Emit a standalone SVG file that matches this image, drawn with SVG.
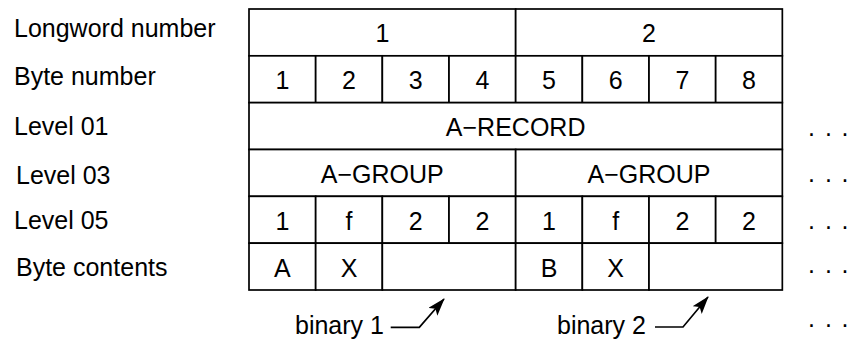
<svg xmlns="http://www.w3.org/2000/svg" width="848" height="339" viewBox="0 0 848 339">
<style>
text{font-family:"Liberation Sans",Arial,Helvetica,sans-serif;font-size:25px;fill:#000}
.c{text-anchor:middle}
.cell{fill:#fff;stroke:#000;stroke-width:1.7}
.conn{fill:none;stroke:#000;stroke-width:1.7}
</style>
<defs>
<marker id="ah" viewBox="0 0 10 10" refX="9" refY="5" markerWidth="7" markerHeight="7" markerUnits="userSpaceOnUse" orient="auto">
<path d="M0,0 L10,5 L0,10 Z" fill="#000"/>
</marker>
<marker id="ah2" viewBox="0 0 18 12" refX="17" refY="6" markerWidth="18" markerHeight="12" markerUnits="userSpaceOnUse" orient="auto">
<path d="M0,0 L18,6 L0,12 L4,6 Z" fill="#000"/>
</marker>
</defs>
<g id="labels">
<text x="14" y="37">Longword number</text>
<text x="14" y="85">Byte number</text>
<text x="14" y="135">Level 01</text>
<text x="16" y="184">Level 03</text>
<text x="14" y="228.5">Level 05</text>
<text x="16" y="276">Byte contents</text>
</g>
<g id="row-longword">
<g id="lw1"><rect class="cell" x="249" y="9" width="266.67" height="46.83"/><text class="c" x="382.33" y="42.4">1</text></g>
<g id="lw2"><rect class="cell" x="515.67" y="9" width="266.67" height="46.83"/><text class="c" x="649" y="42.4">2</text></g>
</g>
<g id="row-byte">
<g id="b1"><rect class="cell" x="249" y="55.83" width="66.67" height="46.83"/><text class="c" x="282.33" y="89.3">1</text></g>
<g id="b2"><rect class="cell" x="315.67" y="55.83" width="66.67" height="46.83"/><text class="c" x="349" y="89.3">2</text></g>
<g id="b3"><rect class="cell" x="382.33" y="55.83" width="66.67" height="46.83"/><text class="c" x="415.67" y="89.3">3</text></g>
<g id="b4"><rect class="cell" x="449" y="55.83" width="66.67" height="46.83"/><text class="c" x="482.33" y="89.3">4</text></g>
<g id="b5"><rect class="cell" x="515.67" y="55.83" width="66.67" height="46.83"/><text class="c" x="549" y="89.3">5</text></g>
<g id="b6"><rect class="cell" x="582.33" y="55.83" width="66.67" height="46.83"/><text class="c" x="615.67" y="89.3">6</text></g>
<g id="b7"><rect class="cell" x="649" y="55.83" width="66.67" height="46.83"/><text class="c" x="682.33" y="89.3">7</text></g>
<g id="b8"><rect class="cell" x="715.67" y="55.83" width="66.67" height="46.83"/><text class="c" x="749" y="89.3">8</text></g>
</g>
<g id="a-record"><rect class="cell" x="249" y="102.67" width="533.33" height="46.83"/><text class="c" x="515.67" y="136.1">A−RECORD</text></g>
<g id="row-group">
<g id="a-group-1"><rect class="cell" x="249" y="149.5" width="266.67" height="46.83"/><text class="c" x="382.33" y="182.9">A−GROUP</text></g>
<g id="a-group-2"><rect class="cell" x="515.67" y="149.5" width="266.67" height="46.83"/><text class="c" x="649" y="182.9">A−GROUP</text></g>
</g>
<g id="row-level05">
<g id="l1"><rect class="cell" x="249" y="196.33" width="66.67" height="46.83"/><text class="c" x="282.33" y="229.75">1</text></g>
<g id="l2"><rect class="cell" x="315.67" y="196.33" width="66.67" height="46.83"/><text class="c" x="349" y="229.75">f</text></g>
<g id="l3"><rect class="cell" x="382.33" y="196.33" width="66.67" height="46.83"/><text class="c" x="415.67" y="229.75">2</text></g>
<g id="l4"><rect class="cell" x="449" y="196.33" width="66.67" height="46.83"/><text class="c" x="482.33" y="229.75">2</text></g>
<g id="l5"><rect class="cell" x="515.67" y="196.33" width="66.67" height="46.83"/><text class="c" x="549" y="229.75">1</text></g>
<g id="l6"><rect class="cell" x="582.33" y="196.33" width="66.67" height="46.83"/><text class="c" x="615.67" y="229.75">f</text></g>
<g id="l7"><rect class="cell" x="649" y="196.33" width="66.67" height="46.83"/><text class="c" x="682.33" y="229.75">2</text></g>
<g id="l8"><rect class="cell" x="715.67" y="196.33" width="66.67" height="46.83"/><text class="c" x="749" y="229.75">2</text></g>
</g>
<g id="row-contents">
<g id="c1"><rect class="cell" x="249" y="243.17" width="66.67" height="46.83"/><text class="c" x="282.33" y="276.6">A</text></g>
<g id="c2"><rect class="cell" x="315.67" y="243.17" width="66.67" height="46.83"/><text class="c" x="349" y="276.6">X</text></g>
<g id="c3"><rect class="cell" x="382.33" y="243.17" width="133.33" height="46.83"/></g>
<g id="c4"><rect class="cell" x="515.67" y="243.17" width="66.67" height="46.83"/><text class="c" x="549" y="276.6">B</text></g>
<g id="c5"><rect class="cell" x="582.33" y="243.17" width="66.67" height="46.83"/><text class="c" x="615.67" y="276.6">X</text></g>
<g id="c6"><rect class="cell" x="649" y="243.17" width="133.33" height="46.83"/></g>
</g>
<g id="binary1"><text x="295" y="334">binary 1</text></g>
<g id="binary2"><text x="557" y="334">binary 2</text></g>
<g id="dots">
<text x="808 825 841.5" y="135.5">...</text>
<text x="808 825 841.5" y="182">...</text>
<text x="808 825 841.5" y="228.7">...</text>
<text x="808 825 841.5" y="273">...</text>
<text x="808 825 841.5" y="327">...</text>
</g>
<g id="connectors">
<polyline class="conn" points="390.7,327.3 419.3,327.3 444,299" marker-end="url(#ah2)"/>
<polyline class="conn" points="655,327 683,327 708,297" marker-end="url(#ah2)"/>
</g>
</svg>
